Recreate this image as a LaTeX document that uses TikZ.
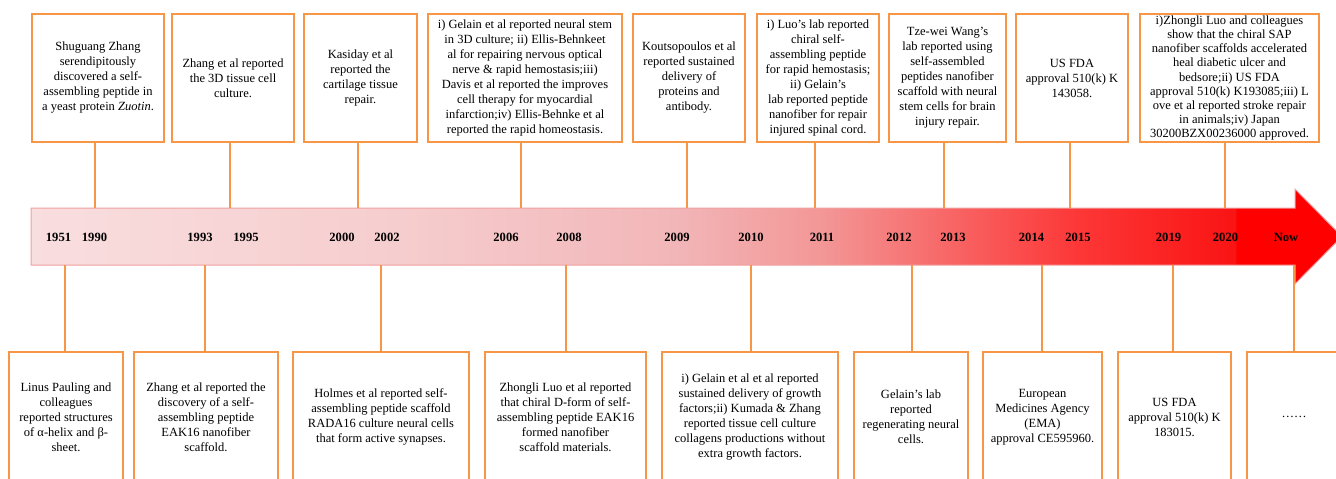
\documentclass[tikz,border=0pt]{standalone}
\usepackage{fontspec}
\setmainfont{Liberation Serif}
\usetikzlibrary{positioning}

\definecolor{boxorange}{RGB}{247,150,70}
\definecolor{barline}{RGB}{240,160,160}
\definecolor{barA}{RGB}{249,222,223}
\definecolor{barB}{RGB}{246,205,206}
\definecolor{barC}{RGB}{242,182,184}
\definecolor{barD}{RGB}{243,150,150}
\definecolor{barE}{RGB}{248,100,100}
\definecolor{barF}{RGB}{253,55,55}
\definecolor{barG}{RGB}{250,20,20}
\definecolor{barH}{RGB}{255,0,0}
\pgfdeclarehorizontalshading{timebar}{100bp}{color(0bp)=(barA); color(25bp)=(barA);
  color(39bp)=(barB); color(49.6bp)=(barC); color(55.2bp)=(barD); color(60.2bp)=(barE);
  color(64.9bp)=(barF); color(70.9bp)=(barG); color(71bp)=(barH); color(100bp)=(barH)}

\begin{document}
\begin{tikzpicture}[x=1pt, y=-1pt,
  box/.style={draw=boxorange, line width=2pt, fill=white, align=center, inner sep=2pt,
    font=\fontsize{12.5}{15}\selectfont},
  topbox/.style={box, minimum height=128pt},
  botbox/.style={box, minimum height=130pt},
  yearlbl/.style={font=\fontsize{12.6}{15}\selectfont\bfseries},
  conn/.style={draw=boxorange, line width=1.6pt}]
\useasboundingbox (0,0) rectangle (1336,479);
\clip (0,0) rectangle (1336,479);

% Draw the time arrow
\shade[shading=timebar, draw=barline, line width=1pt] (31,208) -- (1295,208) -- (1295,189)
  -- (1342,236.5) -- (1295,284) -- (1295,265) -- (31,265) -- cycle;
\coordinate (bartop) at (0,208);
\coordinate (barbot) at (0,265);

% Years
\foreach \x/\yr in {58.5/1951, 94.5/1990, 200/1993, 246/1995, 342/2000, 387/2002,
  506/2006, 569/2008, 677/2009, 751/2010, 822/2011, 899/2012, 953/2013,
  1031.5/2014, 1078/2015, 1168.5/2019, 1225.5/2020, 1286/Now}
  \node[yearlbl] (y\yr) at (\x,237) {\yr};

% Events above the arrow
\node[topbox, minimum width=132pt] (t1) at (98,78) {Shuguang Zhang\\serendipitously\\discovered a self-\\assembling peptide in\\a yeast protein \textit{Zuotin}.};
\node[topbox, minimum width=122pt] (t2) at (233,78) {Zhang et al reported\\the 3D tissue cell\\culture.};
\node[topbox, minimum width=113pt] (t3) at (360.5,78) {Kasiday et al\\reported the\\cartilage tissue\\repair.};
\node[topbox, minimum width=194pt] (t4) at (525,78) {i) Gelain et al reported neural stem\\in 3D culture; ii) Ellis-Behnkeet\\al for repairing nervous optical\\nerve \& rapid  hemostasis;iii)\\Davis et al reported the improves\\cell therapy for myocardial\\infarction;iv)  Ellis-Behnke et al\\reported the rapid homeostasis.};
\node[topbox, minimum width=112pt] (t5) at (689,78) {Koutsopoulos et al\\reported sustained\\delivery of\\proteins and\\antibody.};
\node[topbox, minimum width=122pt] (t6) at (818,78) {i) Luo’s lab reported\\chiral self-\\assembling peptide\\for rapid hemostasis;\\ii) Gelain’s\\lab reported peptide\\nanofiber for repair\\injured spinal cord.};
\node[topbox, minimum width=117pt] (t7) at (947.5,78) {Tze-wei Wang’s\\lab reported using\\self-assembled\\peptides nanofiber\\scaffold with neural\\stem cells for brain\\injury repair.};
\node[topbox, minimum width=112pt] (t8) at (1072,78) {US FDA\\approval 510(k) K\\143058.};
\node[topbox, minimum width=179pt, inner sep=0pt, font=\fontsize{12.5}{14.2}\selectfont] (t9) at (1229.5,78) {i)Zhongli Luo and colleagues\\show that the chiral SAP\\nanofiber scaffolds accelerated\\heal diabetic ulcer and\\bedsore;ii) US FDA\\approval 510(k) K193085;iii)  L\\ove et al reported stroke repair\\in animals;iv) Japan\\30200BZX00236000 approved.};

% Events below the arrow
\node[botbox, minimum width=114pt] (b1) at (66,417) {Linus Pauling and\\colleagues\\reported structures\\of α-helix and β-\\sheet.};
\node[botbox, minimum width=144pt] (b2) at (206,417) {Zhang et al reported the\\discovery of a self-\\assembling peptide\\EAK16 nanofiber\\scaffold.};
\node[botbox, minimum width=176pt] (b3) at (381,417) {Holmes et al reported self-\\assembling peptide scaffold\\RADA16 culture neural cells\\that form active synapses.};
\node[botbox, minimum width=161pt] (b4) at (565.5,417) {Zhongli Luo et al reported\\that chiral D-form of self-\\assembling peptide EAK16\\formed nanofiber\\scaffold materials.};
\node[botbox, minimum width=176pt] (b5) at (750,417) {i) Gelain et al et al reported\\sustained delivery of growth\\factors;ii) Kumada \& Zhang\\reported tissue cell culture\\collagens productions without\\extra growth factors.};
\node[botbox, minimum width=114pt] (b6) at (911,417) {Gelain’s lab\\reported\\regenerating neural\\cells.};
\node[botbox, minimum width=119pt] (b7) at (1042.5,417) {European\\Medicines Agency\\(EMA)\\approval CE595960.};
\node[botbox, minimum width=113pt] (b8) at (1174.5,417) {US FDA\\approval 510(k) K\\183015.};
\node[botbox, minimum width=94pt] (b9) at (1294,417) {……};

% Connectors to the arrow
\foreach \i/\x in {1/95, 2/230, 3/358, 4/521, 5/687, 6/815, 7/944, 8/1070, 9/1225}
  \draw[conn] (\x,0 |- t\i.south) -- (\x,0 |- bartop);
\foreach \i/\x in {1/65, 2/205, 3/381, 4/566, 5/751, 6/912, 7/1042, 8/1173, 9/1294}
  \draw[conn] (\x,0 |- b\i.north) -- (\x,0 |- barbot);
\end{tikzpicture}
\end{document}
